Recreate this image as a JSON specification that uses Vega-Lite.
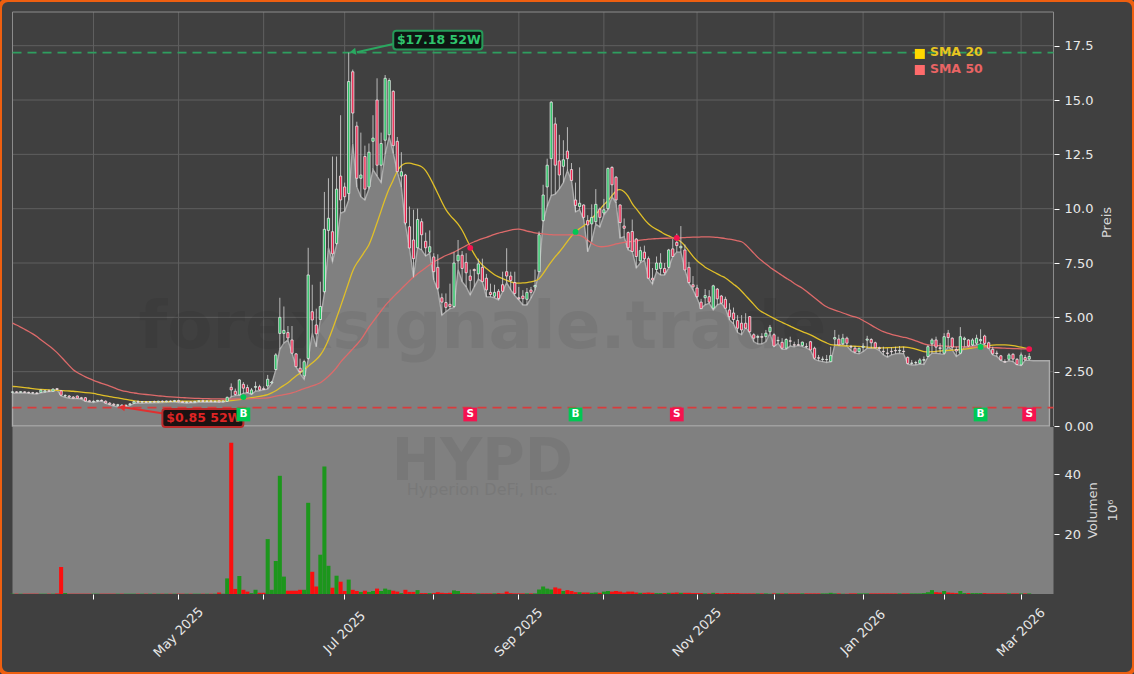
{"$schema":"https://vega.github.io/schema/vega-lite/v6.json","width":1134,"height":674,"autosize":"none","padding":0,"background":"#404040",
"view":{"fill":"#404040","stroke":"#ee5f10","strokeWidth":4,"cornerRadius":8},
"config":{"font":"DejaVu Sans"},
"datasets":{"ohlc":[
{"d":"2025-03-04","o":1.55,"h":1.6,"l":1.5,"c":1.57,"v":0.1,"a":1.82,"b":4.74},
{"d":"2025-03-05","o":1.57,"h":1.6,"l":1.52,"c":1.55,"v":0.1,"a":1.81,"b":4.65},
{"d":"2025-03-06","o":1.55,"h":1.6,"l":1.52,"c":1.58,"v":0.1,"a":1.79,"b":4.55},
{"d":"2025-03-07","o":1.57,"h":1.6,"l":1.52,"c":1.55,"v":0.1,"a":1.77,"b":4.45},
{"d":"2025-03-10","o":1.55,"h":1.58,"l":1.5,"c":1.53,"v":0.1,"a":1.75,"b":4.35},
{"d":"2025-03-11","o":1.53,"h":1.57,"l":1.48,"c":1.52,"v":0.1,"a":1.72,"b":4.24},
{"d":"2025-03-12","o":1.52,"h":1.56,"l":1.47,"c":1.5,"v":0.1,"a":1.7,"b":4.13},
{"d":"2025-03-13","o":1.55,"h":1.68,"l":1.53,"c":1.65,"v":0.1,"a":1.68,"b":3.96},
{"d":"2025-03-14","o":1.57,"h":1.66,"l":1.55,"c":1.62,"v":0.1,"a":1.67,"b":3.83},
{"d":"2025-03-17","o":1.62,"h":1.68,"l":1.58,"c":1.6,"v":0.1,"a":1.66,"b":3.7},
{"d":"2025-03-18","o":1.6,"h":1.72,"l":1.6,"c":1.7,"v":0.1,"a":1.65,"b":3.55},
{"d":"2025-03-19","o":1.72,"h":1.75,"l":1.66,"c":1.68,"v":0.2,"a":1.64,"b":3.38},
{"d":"2025-03-20","o":1.62,"h":1.66,"l":1.38,"c":1.42,"v":9,"a":1.63,"b":3.18},
{"d":"2025-03-21","o":1.38,"h":1.46,"l":1.32,"c":1.4,"v":0.3,"a":1.62,"b":2.98},
{"d":"2025-03-24","o":1.38,"h":1.42,"l":1.28,"c":1.33,"v":0.1,"a":1.61,"b":2.78},
{"d":"2025-03-25","o":1.33,"h":1.38,"l":1.26,"c":1.28,"v":0.1,"a":1.6,"b":2.58},
{"d":"2025-03-26","o":1.38,"h":1.4,"l":1.26,"c":1.28,"v":0.1,"a":1.58,"b":2.46},
{"d":"2025-03-27","o":1.3,"h":1.34,"l":1.24,"c":1.26,"v":0.1,"a":1.56,"b":2.36},
{"d":"2025-03-28","o":1.3,"h":1.33,"l":1.14,"c":1.15,"v":0.1,"a":1.54,"b":2.26},
{"d":"2025-03-31","o":1.16,"h":1.2,"l":1.1,"c":1.12,"v":0.1,"a":1.52,"b":2.18},
{"d":"2025-04-01","o":1.12,"h":1.18,"l":1.08,"c":1.14,"v":0.1,"a":1.5,"b":2.1},
{"d":"2025-04-02","o":1.15,"h":1.2,"l":1.12,"c":1.18,"v":0.1,"a":1.46,"b":2.03},
{"d":"2025-04-03","o":1.18,"h":1.22,"l":1.15,"c":1.16,"v":0.1,"a":1.42,"b":1.96},
{"d":"2025-04-04","o":1.14,"h":1.18,"l":1.04,"c":1.06,"v":0.1,"a":1.38,"b":1.9},
{"d":"2025-04-07","o":1.05,"h":1.1,"l":0.97,"c":1.0,"v":0.1,"a":1.35,"b":1.84},
{"d":"2025-04-08","o":1.0,"h":1.06,"l":0.92,"c":0.96,"v":0.1,"a":1.32,"b":1.77},
{"d":"2025-04-09","o":0.94,"h":1.02,"l":0.88,"c":0.98,"v":0.1,"a":1.29,"b":1.68},
{"d":"2025-04-10","o":0.96,"h":1.0,"l":0.85,"c":0.9,"v":0.1,"a":1.26,"b":1.63},
{"d":"2025-04-11","o":0.92,"h":1.0,"l":0.88,"c":0.95,"v":0.1,"a":1.22,"b":1.59},
{"d":"2025-04-14","o":0.98,"h":1.06,"l":0.94,"c":1.02,"v":0.1,"a":1.19,"b":1.55},
{"d":"2025-04-15","o":1.05,"h":1.16,"l":1.04,"c":1.12,"v":0.1,"a":1.16,"b":1.52},
{"d":"2025-04-16","o":1.12,"h":1.18,"l":1.06,"c":1.1,"v":0.1,"a":1.13,"b":1.49},
{"d":"2025-04-17","o":1.1,"h":1.15,"l":1.05,"c":1.12,"v":0.1,"a":1.12,"b":1.47},
{"d":"2025-04-21","o":1.11,"h":1.14,"l":1.06,"c":1.09,"v":0.1,"a":1.12,"b":1.45},
{"d":"2025-04-22","o":1.09,"h":1.15,"l":1.06,"c":1.12,"v":0.1,"a":1.12,"b":1.43},
{"d":"2025-04-23","o":1.12,"h":1.17,"l":1.07,"c":1.1,"v":0.1,"a":1.12,"b":1.41},
{"d":"2025-04-24","o":1.1,"h":1.16,"l":1.07,"c":1.14,"v":0.1,"a":1.12,"b":1.39},
{"d":"2025-04-25","o":1.14,"h":1.18,"l":1.08,"c":1.12,"v":0.1,"a":1.12,"b":1.37},
{"d":"2025-04-28","o":1.12,"h":1.17,"l":1.09,"c":1.15,"v":0.1,"a":1.12,"b":1.35},
{"d":"2025-04-29","o":1.14,"h":1.18,"l":1.1,"c":1.13,"v":0.1,"a":1.13,"b":1.34},
{"d":"2025-04-30","o":1.13,"h":1.2,"l":1.1,"c":1.17,"v":0.1,"a":1.13,"b":1.33},
{"d":"2025-05-01","o":1.17,"h":1.21,"l":1.08,"c":1.12,"v":0.1,"a":1.14,"b":1.32},
{"d":"2025-05-02","o":1.12,"h":1.16,"l":1.07,"c":1.08,"v":0.1,"a":1.14,"b":1.31},
{"d":"2025-05-05","o":1.08,"h":1.14,"l":1.05,"c":1.11,"v":0.1,"a":1.14,"b":1.29},
{"d":"2025-05-06","o":1.11,"h":1.15,"l":1.07,"c":1.09,"v":0.1,"a":1.14,"b":1.28},
{"d":"2025-05-07","o":1.09,"h":1.16,"l":1.07,"c":1.13,"v":0.1,"a":1.15,"b":1.27},
{"d":"2025-05-08","o":1.13,"h":1.19,"l":1.09,"c":1.16,"v":0.1,"a":1.15,"b":1.27},
{"d":"2025-05-09","o":1.16,"h":1.21,"l":1.1,"c":1.13,"v":0.1,"a":1.15,"b":1.26},
{"d":"2025-05-12","o":1.13,"h":1.18,"l":1.09,"c":1.15,"v":0.1,"a":1.15,"b":1.26},
{"d":"2025-05-13","o":1.15,"h":1.2,"l":1.1,"c":1.12,"v":0.1,"a":1.15,"b":1.25},
{"d":"2025-05-14","o":1.12,"h":1.17,"l":1.09,"c":1.14,"v":0.1,"a":1.15,"b":1.25},
{"d":"2025-05-15","o":1.16,"h":1.18,"l":1.09,"c":1.11,"v":0.5,"a":1.15,"b":1.25},
{"d":"2025-05-16","o":1.11,"h":1.17,"l":1.1,"c":1.15,"v":0.1,"a":1.15,"b":1.24},
{"d":"2025-05-19","o":1.13,"h":1.35,"l":1.15,"c":1.32,"v":5.2,"a":1.15,"b":1.24},
{"d":"2025-05-20","o":1.78,"h":1.96,"l":1.35,"c":1.66,"v":50.4,"a":1.17,"b":1.24},
{"d":"2025-05-21","o":1.6,"h":1.72,"l":1.4,"c":1.45,"v":1.7,"a":1.19,"b":1.24},
{"d":"2025-05-22","o":1.43,"h":2.16,"l":1.42,"c":2.12,"v":6,"a":1.22,"b":1.25},
{"d":"2025-05-23","o":1.92,"h":2.02,"l":1.5,"c":1.74,"v":1.4,"a":1.24,"b":1.25},
{"d":"2025-05-27","o":1.77,"h":1.9,"l":1.53,"c":1.54,"v":0.8,"a":1.27,"b":1.25},
{"d":"2025-05-28","o":1.48,"h":1.75,"l":1.45,"c":1.66,"v":0.3,"a":1.3,"b":1.26},
{"d":"2025-05-29","o":1.78,"h":2.04,"l":1.6,"c":1.82,"v":1.4,"a":1.33,"b":1.27},
{"d":"2025-05-30","o":1.81,"h":1.9,"l":1.62,"c":1.66,"v":0.4,"a":1.36,"b":1.27},
{"d":"2025-06-02","o":1.72,"h":1.82,"l":1.66,"c":1.68,"v":0.4,"a":1.4,"b":1.28},
{"d":"2025-06-03","o":1.84,"h":2.35,"l":1.7,"c":2.15,"v":18.3,"a":1.43,"b":1.29},
{"d":"2025-06-04","o":1.98,"h":2.08,"l":1.95,"c":2.02,"v":1.4,"a":1.52,"b":1.33},
{"d":"2025-06-05","o":2.6,"h":3.35,"l":2.58,"c":3.27,"v":11,"a":1.62,"b":1.37},
{"d":"2025-06-06","o":4.26,"h":5.9,"l":3.53,"c":5,"v":39.4,"a":1.75,"b":1.41},
{"d":"2025-06-09","o":4.26,"h":5.5,"l":3.81,"c":4.4,"v":5.8,"a":1.87,"b":1.44},
{"d":"2025-06-10","o":4.3,"h":4.6,"l":3.96,"c":4.05,"v":1.1,"a":1.98,"b":1.48},
{"d":"2025-06-11","o":3.96,"h":4.6,"l":3.35,"c":3.35,"v":1.1,"a":2.15,"b":1.52},
{"d":"2025-06-12","o":3.32,"h":3.35,"l":2.72,"c":2.73,"v":1.1,"a":2.3,"b":1.57},
{"d":"2025-06-13","o":2.66,"h":3.1,"l":2.4,"c":2.5,"v":1.4,"a":2.44,"b":1.66},
{"d":"2025-06-16","o":2.3,"h":3.05,"l":2.15,"c":2.96,"v":1.4,"a":2.6,"b":1.72},
{"d":"2025-06-17","o":3.11,"h":8.2,"l":3.04,"c":6.95,"v":30.4,"a":2.75,"b":1.78},
{"d":"2025-06-18","o":5.26,"h":6.5,"l":4.28,"c":4.88,"v":7.4,"a":2.9,"b":1.84},
{"d":"2025-06-20","o":4.65,"h":5.4,"l":3.65,"c":4.24,"v":2.5,"a":3.05,"b":1.91},
{"d":"2025-06-23","o":4.9,"h":6.64,"l":4.88,"c":5.5,"v":13.1,"a":3.25,"b":1.98},
{"d":"2025-06-24","o":6.18,"h":10.77,"l":6.1,"c":9.05,"v":42.5,"a":3.55,"b":2.12},
{"d":"2025-06-25","o":9,"h":11.4,"l":8.2,"c":9.56,"v":9.4,"a":3.96,"b":2.28},
{"d":"2025-06-26","o":8.94,"h":12.4,"l":7.56,"c":7.92,"v":2.1,"a":4.45,"b":2.47},
{"d":"2025-06-27","o":8.4,"h":12.4,"l":8.33,"c":10.9,"v":6.1,"a":4.97,"b":2.67},
{"d":"2025-06-30","o":11.5,"h":14.3,"l":9.79,"c":10.4,"v":4.1,"a":5.5,"b":2.95},
{"d":"2025-07-01","o":11,"h":11.2,"l":9.87,"c":10.55,"v":1,"a":6.05,"b":3.15},
{"d":"2025-07-02","o":10.7,"h":17.18,"l":10.4,"c":15.85,"v":4.8,"a":6.6,"b":3.35},
{"d":"2025-07-03","o":16.3,"h":16.4,"l":13,"c":14.4,"v":1.4,"a":7.18,"b":3.55},
{"d":"2025-07-07","o":13.8,"h":14,"l":11,"c":11.4,"v":1,"a":7.5,"b":3.75},
{"d":"2025-07-08","o":11.4,"h":13.5,"l":10.55,"c":11.55,"v":0.7,"a":7.75,"b":3.96},
{"d":"2025-07-09","o":12.4,"h":12.9,"l":10.4,"c":10.9,"v":1.1,"a":8.05,"b":4.25},
{"d":"2025-07-10","o":11,"h":13,"l":10.9,"c":12.6,"v":0.7,"a":8.3,"b":4.56},
{"d":"2025-07-11","o":13.1,"h":14.3,"l":11.8,"c":13.25,"v":1,"a":8.8,"b":4.8},
{"d":"2025-07-14","o":15,"h":16,"l":11.5,"c":12,"v":1.8,"a":9.35,"b":5.05},
{"d":"2025-07-15","o":12,"h":13.5,"l":11.2,"c":13,"v":1,"a":9.9,"b":5.3},
{"d":"2025-07-16","o":13.15,"h":16.15,"l":12.5,"c":16,"v":1.8,"a":10.45,"b":5.55},
{"d":"2025-07-17","o":13.4,"h":16,"l":13.3,"c":15.9,"v":1.4,"a":10.95,"b":5.75},
{"d":"2025-07-18","o":15.4,"h":15.45,"l":12.55,"c":12.9,"v":1.1,"a":11.3,"b":5.94},
{"d":"2025-07-21","o":13.1,"h":13.3,"l":11.7,"c":11.7,"v":0.8,"a":11.78,"b":6.13},
{"d":"2025-07-22","o":11.5,"h":12.6,"l":11,"c":11.7,"v":0.3,"a":12,"b":6.32},
{"d":"2025-07-23","o":11.55,"h":11.6,"l":9.25,"c":9.34,"v":1.4,"a":12.1,"b":6.5},
{"d":"2025-07-24","o":9.17,"h":10.1,"l":8.19,"c":8.19,"v":0.7,"a":12.1,"b":6.68},
{"d":"2025-07-25","o":8.56,"h":9.95,"l":6.84,"c":7.7,"v":0.7,"a":12.05,"b":6.86},
{"d":"2025-07-28","o":8.2,"h":10,"l":8.2,"c":9.5,"v":1.3,"a":12,"b":7},
{"d":"2025-07-29","o":9.4,"h":9.55,"l":8.1,"c":8.8,"v":0.3,"a":11.95,"b":7.15},
{"d":"2025-07-30","o":8.5,"h":8.9,"l":7.82,"c":8.2,"v":0.3,"a":11.78,"b":7.28},
{"d":"2025-07-31","o":8,"h":9,"l":7.95,"c":8.25,"v":0.3,"a":11.45,"b":7.42},
{"d":"2025-08-01","o":7.78,"h":7.95,"l":6.72,"c":7.1,"v":0.3,"a":11.09,"b":7.55},
{"d":"2025-08-04","o":7.3,"h":7.9,"l":6.26,"c":6.34,"v":0.6,"a":10.7,"b":7.65},
{"d":"2025-08-05","o":5.9,"h":6.1,"l":5.1,"c":5.7,"v":0.4,"a":10.3,"b":7.75},
{"d":"2025-08-06","o":5.68,"h":6.1,"l":5.26,"c":5.46,"v":0.3,"a":9.94,"b":7.85},
{"d":"2025-08-07","o":5.6,"h":6.55,"l":5.4,"c":5.5,"v":0.4,"a":9.7,"b":7.92},
{"d":"2025-08-08","o":5.5,"h":8,"l":5.45,"c":7.5,"v":1.2,"a":9.5,"b":8},
{"d":"2025-08-11","o":7.6,"h":8.56,"l":7.2,"c":7.86,"v":1,"a":9.3,"b":8.1},
{"d":"2025-08-12","o":7.86,"h":8.05,"l":6.64,"c":7.25,"v":0.3,"a":9.02,"b":8.2},
{"d":"2025-08-13","o":7.53,"h":7.95,"l":6.4,"c":7.05,"v":0.3,"a":8.65,"b":8.3},
{"d":"2025-08-14","o":6.9,"h":7.2,"l":6.03,"c":6.7,"v":0.3,"a":8.24,"b":8.4},
{"d":"2025-08-15","o":7.2,"h":7.25,"l":6.4,"c":7.15,"v":0.2,"a":7.9,"b":8.48},
{"d":"2025-08-18","o":7,"h":7.7,"l":6.75,"c":7.46,"v":0.2,"a":7.6,"b":8.56},
{"d":"2025-08-19","o":7.3,"h":7.7,"l":6.64,"c":6.64,"v":0.2,"a":7.4,"b":8.62},
{"d":"2025-08-20","o":6.8,"h":7,"l":5.94,"c":6.26,"v":0.2,"a":7.25,"b":8.68},
{"d":"2025-08-21","o":6.15,"h":6.55,"l":5.94,"c":6.05,"v":0.2,"a":7.1,"b":8.75},
{"d":"2025-08-22","o":5.97,"h":6.5,"l":5.9,"c":6.15,"v":0.2,"a":6.95,"b":8.82},
{"d":"2025-08-25","o":6.2,"h":6.3,"l":5.8,"c":5.87,"v":0.3,"a":6.86,"b":8.88},
{"d":"2025-08-26","o":6.5,"h":7.1,"l":6.18,"c":6.2,"v":0.2,"a":6.78,"b":8.92},
{"d":"2025-08-27","o":7.1,"h":8.18,"l":6.6,"c":6.9,"v":0.8,"a":6.7,"b":8.97},
{"d":"2025-08-28","o":6.9,"h":7.1,"l":6.26,"c":6.7,"v":0.3,"a":6.63,"b":9.02},
{"d":"2025-08-29","o":6.6,"h":7.1,"l":6,"c":6.1,"v":0.2,"a":6.58,"b":9.05},
{"d":"2025-09-02","o":5.9,"h":6.4,"l":5.8,"c":5.85,"v":0.2,"a":6.57,"b":9.07},
{"d":"2025-09-03","o":5.98,"h":6.25,"l":5.57,"c":5.86,"v":0.2,"a":6.58,"b":9.02},
{"d":"2025-09-04","o":5.83,"h":6.35,"l":5.57,"c":6.15,"v":0.2,"a":6.6,"b":8.97},
{"d":"2025-09-05","o":6.26,"h":6.4,"l":5.88,"c":6.15,"v":0.2,"a":6.63,"b":8.93},
{"d":"2025-09-08","o":6.4,"h":7.2,"l":6.26,"c":6.47,"v":0.2,"a":6.67,"b":8.88},
{"d":"2025-09-09","o":7.1,"h":8.95,"l":7.1,"c":8.8,"v":1.5,"a":6.75,"b":8.86},
{"d":"2025-09-10","o":9.45,"h":11.1,"l":9.4,"c":10.63,"v":2.5,"a":7,"b":8.84},
{"d":"2025-09-11","o":11,"h":12.3,"l":10.1,"c":12,"v":1.8,"a":7.3,"b":8.82},
{"d":"2025-09-12","o":12.3,"h":14.95,"l":10.6,"c":14.9,"v":1.5,"a":7.55,"b":8.8},
{"d":"2025-09-15","o":13.9,"h":14.2,"l":10.67,"c":12,"v":2.2,"a":7.8,"b":8.79},
{"d":"2025-09-16","o":12.2,"h":13.4,"l":10.9,"c":11.55,"v":1.8,"a":8,"b":8.79},
{"d":"2025-09-17","o":11.95,"h":13.15,"l":11.2,"c":12.25,"v":1,"a":8.24,"b":8.79},
{"d":"2025-09-18","o":12.65,"h":13.75,"l":11.75,"c":12.3,"v":1.3,"a":8.5,"b":8.8},
{"d":"2025-09-19","o":11.8,"h":12.1,"l":11.3,"c":11.3,"v":1,"a":8.75,"b":8.8},
{"d":"2025-09-22","o":10.4,"h":11.2,"l":9.85,"c":10.15,"v":0.6,"a":8.93,"b":8.8},
{"d":"2025-09-23","o":10.1,"h":11.9,"l":9.95,"c":10.25,"v":0.6,"a":9.1,"b":8.79},
{"d":"2025-09-24","o":10.17,"h":10.2,"l":9.5,"c":9.6,"v":0.5,"a":9.2,"b":8.7},
{"d":"2025-09-25","o":9.45,"h":9.7,"l":8.02,"c":9.25,"v":0.5,"a":9.35,"b":8.55},
{"d":"2025-09-26","o":9.3,"h":10.2,"l":8.5,"c":9.6,"v":0.4,"a":9.55,"b":8.4},
{"d":"2025-09-29","o":9.4,"h":10.9,"l":9.3,"c":10.2,"v":0.5,"a":9.75,"b":8.3},
{"d":"2025-09-30","o":9.98,"h":10.05,"l":9.15,"c":9.6,"v":0.4,"a":9.95,"b":8.24},
{"d":"2025-10-01","o":9.8,"h":10.45,"l":9.7,"c":9.95,"v":0.8,"a":10.2,"b":8.25},
{"d":"2025-10-02","o":10,"h":11.9,"l":9.95,"c":11.85,"v":1,"a":10.35,"b":8.28},
{"d":"2025-10-03","o":11.9,"h":11.95,"l":10.55,"c":11.1,"v":0.8,"a":10.6,"b":8.32},
{"d":"2025-10-06","o":11.45,"h":11.5,"l":10.26,"c":10.4,"v":1,"a":10.85,"b":8.38},
{"d":"2025-10-07","o":10.17,"h":10.2,"l":8.65,"c":9.36,"v":0.8,"a":10.9,"b":8.42},
{"d":"2025-10-08","o":9.2,"h":9.55,"l":8.7,"c":9.1,"v":0.5,"a":10.8,"b":8.45},
{"d":"2025-10-09","o":8.9,"h":8.95,"l":8.1,"c":8.2,"v":0.8,"a":10.6,"b":8.48},
{"d":"2025-10-10","o":8.95,"h":9.5,"l":8.03,"c":8.03,"v":0.8,"a":10.2,"b":8.5},
{"d":"2025-10-13","o":8.6,"h":8.65,"l":7.27,"c":7.8,"v":0.5,"a":10,"b":8.52},
{"d":"2025-10-14","o":7.6,"h":8.25,"l":7.5,"c":8.07,"v":0.4,"a":9.75,"b":8.55},
{"d":"2025-10-15","o":8,"h":8.3,"l":7.64,"c":7.7,"v":0.4,"a":9.5,"b":8.57},
{"d":"2025-10-16","o":7.7,"h":7.8,"l":6.8,"c":6.8,"v":0.5,"a":9.3,"b":8.6},
{"d":"2025-10-17","o":6.8,"h":7.27,"l":6.53,"c":6.72,"v":0.4,"a":9.15,"b":8.61},
{"d":"2025-10-20","o":7.2,"h":7.8,"l":7.1,"c":7.5,"v":0.3,"a":9.05,"b":8.62},
{"d":"2025-10-21","o":7.25,"h":7.95,"l":6.95,"c":7.5,"v":0.3,"a":8.95,"b":8.63},
{"d":"2025-10-22","o":7.25,"h":7.5,"l":6.95,"c":7.05,"v":0.3,"a":8.82,"b":8.64},
{"d":"2025-10-23","o":7.3,"h":8.15,"l":7.27,"c":8.1,"v":0.4,"a":8.75,"b":8.64},
{"d":"2025-10-24","o":8.15,"h":8.6,"l":7.8,"c":7.8,"v":0.4,"a":8.65,"b":8.65},
{"d":"2025-10-27","o":8.45,"h":8.85,"l":8,"c":8.3,"v":0.5,"a":8.6,"b":8.65},
{"d":"2025-10-28","o":8.2,"h":9.2,"l":8,"c":8.27,"v":0.4,"a":8.5,"b":8.66},
{"d":"2025-10-29","o":8.1,"h":8.35,"l":7.18,"c":7.18,"v":0.4,"a":8.3,"b":8.67},
{"d":"2025-10-30","o":7.3,"h":7.55,"l":6.57,"c":6.6,"v":0.4,"a":8.05,"b":8.68},
{"d":"2025-10-31","o":6.5,"h":6.9,"l":6.26,"c":6.4,"v":0.3,"a":7.8,"b":8.69},
{"d":"2025-11-03","o":6.35,"h":6.5,"l":5.88,"c":5.95,"v":0.3,"a":7.6,"b":8.69},
{"d":"2025-11-04","o":5.7,"h":5.85,"l":5.42,"c":5.4,"v":0.3,"a":7.45,"b":8.7},
{"d":"2025-11-05","o":5.9,"h":6.3,"l":5.57,"c":6,"v":0.2,"a":7.3,"b":8.7},
{"d":"2025-11-06","o":5.95,"h":6.25,"l":5.64,"c":5.7,"v":0.2,"a":7.2,"b":8.7},
{"d":"2025-11-07","o":5.42,"h":6.5,"l":5.34,"c":6.45,"v":0.4,"a":7.1,"b":8.69},
{"d":"2025-11-10","o":6.3,"h":6.35,"l":5.57,"c":5.85,"v":0.3,"a":7,"b":8.68},
{"d":"2025-11-11","o":5.98,"h":6.03,"l":5.64,"c":5.65,"v":0.2,"a":6.9,"b":8.65},
{"d":"2025-11-12","o":5.83,"h":5.95,"l":5.42,"c":5.42,"v":0.3,"a":6.82,"b":8.62},
{"d":"2025-11-13","o":5.34,"h":5.65,"l":4.88,"c":5.03,"v":0.3,"a":6.68,"b":8.6},
{"d":"2025-11-14","o":5.2,"h":5.45,"l":4.7,"c":4.9,"v":0.3,"a":6.52,"b":8.56},
{"d":"2025-11-17","o":4.85,"h":5.1,"l":4.3,"c":4.5,"v":0.3,"a":6.4,"b":8.52},
{"d":"2025-11-18","o":4.73,"h":5.1,"l":4.2,"c":4.42,"v":0.2,"a":6.2,"b":8.5},
{"d":"2025-11-19","o":4.73,"h":5.19,"l":4.54,"c":4.5,"v":0.2,"a":6,"b":8.35},
{"d":"2025-11-20","o":5.03,"h":5.06,"l":4.27,"c":4.34,"v":0.2,"a":5.8,"b":8.15},
{"d":"2025-11-21","o":4.2,"h":4.27,"l":3.88,"c":4.04,"v":0.2,"a":5.6,"b":7.96},
{"d":"2025-11-24","o":4.08,"h":4.2,"l":3.77,"c":4.12,"v":0.2,"a":5.37,"b":7.75},
{"d":"2025-11-25","o":4.12,"h":4.27,"l":3.77,"c":4.08,"v":0.2,"a":5.25,"b":7.6},
{"d":"2025-11-26","o":4.11,"h":4.42,"l":3.88,"c":4.27,"v":0.2,"a":5.15,"b":7.45},
{"d":"2025-11-28","o":4.34,"h":4.65,"l":4.27,"c":4.54,"v":0.1,"a":5.05,"b":7.3},
{"d":"2025-12-01","o":4.2,"h":4.27,"l":3.65,"c":3.68,"v":0.2,"a":4.95,"b":7.18},
{"d":"2025-12-02","o":3.92,"h":4.11,"l":3.81,"c":3.94,"v":0.2,"a":4.85,"b":7.05},
{"d":"2025-12-03","o":3.85,"h":4.04,"l":3.53,"c":3.58,"v":0.2,"a":4.77,"b":6.93},
{"d":"2025-12-04","o":3.58,"h":4.04,"l":3.53,"c":3.98,"v":0.2,"a":4.68,"b":6.8},
{"d":"2025-12-05","o":3.92,"h":4.11,"l":3.68,"c":3.9,"v":0.2,"a":4.6,"b":6.7},
{"d":"2025-12-08","o":3.74,"h":3.88,"l":3.65,"c":3.72,"v":0.2,"a":4.5,"b":6.55},
{"d":"2025-12-09","o":3.74,"h":4.0,"l":3.7,"c":3.72,"v":0.2,"a":4.42,"b":6.45},
{"d":"2025-12-10","o":3.7,"h":3.88,"l":3.65,"c":3.86,"v":0.2,"a":4.34,"b":6.35},
{"d":"2025-12-11","o":3.66,"h":3.81,"l":3.58,"c":3.64,"v":0.2,"a":4.27,"b":6.2},
{"d":"2025-12-12","o":3.88,"h":3.92,"l":3.5,"c":3.5,"v":0.2,"a":4.2,"b":6.05},
{"d":"2025-12-15","o":3.58,"h":3.65,"l":3.07,"c":3.12,"v":0.2,"a":4.1,"b":5.9},
{"d":"2025-12-16","o":3.14,"h":3.27,"l":3,"c":3.12,"v":0.2,"a":4,"b":5.75},
{"d":"2025-12-17","o":3.06,"h":3.2,"l":2.96,"c":3.08,"v":0.2,"a":3.9,"b":5.6},
{"d":"2025-12-18","o":3.05,"h":3.27,"l":2.92,"c":3.06,"v":0.2,"a":3.82,"b":5.48},
{"d":"2025-12-19","o":2.96,"h":3.65,"l":2.96,"c":3.24,"v":0.4,"a":3.74,"b":5.4},
{"d":"2025-12-22","o":4.0,"h":4.42,"l":3.73,"c":4.07,"v":0.2,"a":3.72,"b":5.33},
{"d":"2025-12-23","o":4,"h":4.2,"l":3.73,"c":3.73,"v":0.2,"a":3.7,"b":5.27},
{"d":"2025-12-24","o":3.78,"h":4.24,"l":3.73,"c":4.04,"v":0.1,"a":3.69,"b":5.2},
{"d":"2025-12-26","o":4.04,"h":4.11,"l":3.68,"c":3.81,"v":0.1,"a":3.68,"b":5.13},
{"d":"2025-12-29","o":3.66,"h":3.73,"l":3.47,"c":3.63,"v":0.2,"a":3.68,"b":5.07},
{"d":"2025-12-30","o":3.58,"h":3.68,"l":3.35,"c":3.4,"v":0.2,"a":3.67,"b":5.02},
{"d":"2025-12-31","o":3.42,"h":3.6,"l":3.32,"c":3.58,"v":0.2,"a":3.66,"b":4.97},
{"d":"2026-01-02","o":3.62,"h":3.81,"l":3.42,"c":3.67,"v":0.2,"a":3.65,"b":4.85},
{"d":"2026-01-05","o":3.95,"h":4.15,"l":3.58,"c":4,"v":0.2,"a":3.63,"b":4.75},
{"d":"2026-01-06","o":3.98,"h":4.04,"l":3.58,"c":3.83,"v":0.2,"a":3.61,"b":4.64},
{"d":"2026-01-07","o":3.83,"h":3.88,"l":3.58,"c":3.6,"v":0.2,"a":3.6,"b":4.53},
{"d":"2026-01-08","o":3.6,"h":3.65,"l":3.47,"c":3.56,"v":0.2,"a":3.59,"b":4.43},
{"d":"2026-01-09","o":3.44,"h":3.65,"l":3.27,"c":3.42,"v":0.2,"a":3.59,"b":4.33},
{"d":"2026-01-12","o":3.36,"h":3.58,"l":3.17,"c":3.34,"v":0.2,"a":3.6,"b":4.28},
{"d":"2026-01-13","o":3.44,"h":3.62,"l":3.27,"c":3.42,"v":0.2,"a":3.61,"b":4.22},
{"d":"2026-01-14","o":3.48,"h":3.65,"l":3.32,"c":3.46,"v":0.2,"a":3.62,"b":4.17},
{"d":"2026-01-15","o":3.46,"h":3.68,"l":3.35,"c":3.48,"v":0.2,"a":3.63,"b":4.12},
{"d":"2026-01-16","o":3.44,"h":3.65,"l":3.32,"c":3.42,"v":0.2,"a":3.64,"b":4.08},
{"d":"2026-01-20","o":3.16,"h":3.2,"l":2.85,"c":2.88,"v":0.2,"a":3.62,"b":4.05},
{"d":"2026-01-21","o":2.88,"h":3.04,"l":2.81,"c":2.9,"v":0.2,"a":3.58,"b":3.98},
{"d":"2026-01-22","o":2.9,"h":3,"l":2.81,"c":2.92,"v":0.2,"a":3.54,"b":3.92},
{"d":"2026-01-23","o":2.88,"h":3.12,"l":2.85,"c":3.04,"v":0.2,"a":3.48,"b":3.85},
{"d":"2026-01-26","o":3.02,"h":3.2,"l":2.83,"c":3.06,"v":0.3,"a":3.42,"b":3.78},
{"d":"2026-01-27","o":3.2,"h":3.73,"l":3.17,"c":3.65,"v":0.6,"a":3.4,"b":3.73},
{"d":"2026-01-28","o":3.78,"h":4.04,"l":3.35,"c":3.96,"v":1.3,"a":3.42,"b":3.72},
{"d":"2026-01-29","o":3.96,"h":4.11,"l":3.35,"c":3.63,"v":0.6,"a":3.44,"b":3.71},
{"d":"2026-01-30","o":3.6,"h":3.81,"l":3.32,"c":3.56,"v":0.5,"a":3.45,"b":3.7},
{"d":"2026-02-02","o":3.35,"h":4.27,"l":3.3,"c":4.11,"v":1,"a":3.47,"b":3.68},
{"d":"2026-02-03","o":4.27,"h":4.42,"l":3.65,"c":4.07,"v":0.5,"a":3.48,"b":3.67},
{"d":"2026-02-04","o":4.04,"h":4.08,"l":3.5,"c":3.63,"v":0.4,"a":3.49,"b":3.65},
{"d":"2026-02-05","o":3.52,"h":3.65,"l":3.2,"c":3.45,"v":0.3,"a":3.5,"b":3.64},
{"d":"2026-02-06","o":3.35,"h":4.55,"l":3.32,"c":4.11,"v":1,"a":3.52,"b":3.64},
{"d":"2026-02-09","o":3.98,"h":4.11,"l":3.65,"c":4.04,"v":0.3,"a":3.54,"b":3.64},
{"d":"2026-02-10","o":3.96,"h":4,"l":3.65,"c":3.68,"v":0.3,"a":3.56,"b":3.64},
{"d":"2026-02-11","o":3.73,"h":4.04,"l":3.68,"c":3.96,"v":0.3,"a":3.59,"b":3.64},
{"d":"2026-02-12","o":3.81,"h":4.2,"l":3.73,"c":4.04,"v":0.3,"a":3.62,"b":3.64},
{"d":"2026-02-13","o":3.92,"h":4.45,"l":3.77,"c":3.98,"v":0.3,"a":3.64,"b":3.64},
{"d":"2026-02-17","o":4.14,"h":4.2,"l":3.73,"c":3.8,"v":0.3,"a":3.67,"b":3.63},
{"d":"2026-02-18","o":3.83,"h":3.88,"l":3.58,"c":3.58,"v":0.2,"a":3.7,"b":3.62},
{"d":"2026-02-19","o":3.53,"h":3.65,"l":3.27,"c":3.32,"v":0.2,"a":3.72,"b":3.61},
{"d":"2026-02-20","o":3.35,"h":3.47,"l":3.2,"c":3.33,"v":0.2,"a":3.73,"b":3.6},
{"d":"2026-02-23","o":3.23,"h":3.27,"l":3.02,"c":3.04,"v":0.2,"a":3.73,"b":3.59},
{"d":"2026-02-24","o":2.96,"h":3.07,"l":2.93,"c":2.94,"v":0.2,"a":3.73,"b":3.58},
{"d":"2026-02-25","o":3.07,"h":3.35,"l":3,"c":3.27,"v":0.2,"a":3.72,"b":3.57},
{"d":"2026-02-26","o":3.3,"h":3.35,"l":2.96,"c":3.08,"v":0.2,"a":3.7,"b":3.56},
{"d":"2026-02-27","o":3.07,"h":3.12,"l":2.81,"c":2.83,"v":0.2,"a":3.67,"b":3.56},
{"d":"2026-03-02","o":2.81,"h":3.38,"l":2.78,"c":3.27,"v":0.2,"a":3.63,"b":3.55},
{"d":"2026-03-03","o":3.15,"h":3.27,"l":3.02,"c":3.04,"v":0.2,"a":3.58,"b":3.55},
{"d":"2026-03-04","o":3.08,"h":3.35,"l":3.02,"c":3.2,"v":0.2,"a":3.54,"b":3.54},
{"d":"2026-03-05","l":3},{"d":"2026-03-06","l":3},{"d":"2026-03-09","l":3},{"d":"2026-03-10","l":3},{"d":"2026-03-11","l":3}
],
"months":[{"d":"2025-04-01"},{"d":"2025-05-01"},{"d":"2025-06-02"},{"d":"2025-07-01"},{"d":"2025-08-01"},{"d":"2025-09-02"},{"d":"2025-10-01"},{"d":"2025-11-03"},{"d":"2025-12-01"},{"d":"2026-01-02"},{"d":"2026-02-02"},{"d":"2026-03-02"}],
"prices":[{"p":2.5},{"p":5},{"p":7.5},{"p":10},{"p":12.5},{"p":15},{"p":17.5}],
"edges":[{"d":"2025-03-04"},{"d":"2026-03-12"}],
"signals":[{"d":"2025-05-23","s":"B","p":0.53,"x":1.33},{"d":"2025-08-14","s":"S","p":0.53,"x":8.2},{"d":"2025-09-22","s":"B","p":0.53,"x":8.93},{"d":"2025-10-27","s":"S","p":0.53,"x":8.65},{"d":"2026-02-13","s":"B","p":0.53,"x":3.64},{"d":"2026-03-04","s":"S","p":0.53,"x":3.54}]
},
"encoding":{"x":{"field":"d","type":"ordinal","title":null,
"scale":{"type":"band","range":[10.475,1055.525],"paddingInner":0,"paddingOuter":0},
"axis":{"orient":"bottom","offset":-80,"title":null,"domain":false,"grid":false,"ticks":true,"tickColor":"#ffffff","tickSize":5,"tickWidth":1,"labelColor":"#e8e8e8","labelFontSize":13,"labelAngle":-45,"labelAlign":"center","labelBaseline":"middle","labelPadding":33,"labelOverlap":false,"labelBound":false,"labelFlush":false,
"values":["2025-04-01","2025-05-01","2025-06-02","2025-07-01","2025-08-01","2025-09-02","2025-10-01","2025-11-03","2025-12-01","2026-01-02","2026-02-02","2026-03-02"],
"labelExpr":"{'2025-05-01':'May 2025','2025-07-01':'Jul 2025','2025-09-02':'Sep 2025','2025-11-03':'Nov 2025','2026-01-02':'Jan 2026','2026-03-02':'Mar 2026'}[datum.value] || ''"}}},
"resolve":{"scale":{"y":"independent"},"axis":{"y":"independent"}},
"layer":[
{"data":{"values":[{"v":0,"v2":55.67}]},"mark":{"type":"rect","color":"#808080"},"encoding":{"x":{"datum":"2025-03-04","type":"ordinal"},"x2":{"datum":"2026-03-12"},
"y":{"field":"v","type":"quantitative","scale":{"domain":[0,55.67],"range":[594,427],"nice":false},
"axis":{"orient":"right","offset":-80,"values":[20,40],"domain":false,"grid":false,"tickColor":"#ffffff","tickSize":5,"labelColor":"#e8e8e8","labelFontSize":13,"labelAlign":"left","labelPadding":5,"title":["Volumen","10⁶"],"titleColor":"#d8d8d8","titleFontSize":13,"titleFontWeight":"normal","titleAngle":-90,"titleX":38,"titleY":510,"titleLineHeight":20,"titleAlign":"center","titleBaseline":"middle"}},
"y2":{"field":"v2"}}},
{"data":{"name":"prices"},"mark":{"type":"rule","color":"#5f5f5f","strokeWidth":1},"encoding":{"x":{"datum":"2025-03-04","type":"ordinal"},"x2":{"datum":"2026-03-12"},
"y":{"field":"p","type":"quantitative","scale":{"domain":[0,19.05],"range":[426,12],"nice":false},
"axis":{"orient":"right","offset":-80,"values":[0,2.5,5,7.5,10,12.5,15,17.5],"labelExpr":"datum.value===0?'0.00':format(datum.value,'.3r')","domain":false,"grid":false,"tickColor":"#ffffff","tickSize":5,"labelColor":"#e8e8e8","labelFontSize":13,"labelAlign":"left","labelPadding":5,"title":"Preis","titleColor":"#d8d8d8","titleFontSize":13,"titleFontWeight":"normal","titleAngle":-90,"titleX":52,"titleY":222,"titleAlign":"center","titleBaseline":"middle"}}}},
{"layer":[
{"data":{"name":"ohlc"},"mark":{"type":"bar","width":{"band":1}},"encoding":{"y":{"field":"v","type":"quantitative","stack":null,"axis":null,"scale":{"domain":[0,55.67],"range":[594,427],"nice":false}},"color":{"condition":{"test":"datum.c>=datum.o","value":"#1c961c"},"value":"#fa0f0f"}}},
{"data":{"values":[{"d":"2025-08-19","v":38}]},"mark":{"type":"text","text":"HYPD","fontSize":58,"fontWeight":"bold","color":"#000000","opacity":0.06,"baseline":"alphabetic"},"encoding":{"y":{"field":"v","type":"quantitative","axis":null}}},
{"data":{"values":[{"d":"2025-08-19","v":33}]},"mark":{"type":"text","text":"Hyperion DeFi, Inc.","fontSize":16,"color":"#000000","opacity":0.06,"baseline":"alphabetic"},"encoding":{"y":{"field":"v","type":"quantitative","axis":null}}}
]},
{"layer":[
{"data":{"name":"months"},"mark":{"type":"rule","color":"#5f5f5f","strokeWidth":1},"encoding":{"y":{"datum":0,"type":"quantitative","axis":null,"scale":{"domain":[0,19.05],"range":[426,12],"nice":false}},"y2":{"datum":19.05}}},
{"data":{"name":"edges"},"mark":{"type":"rule","color":"#8c8c8c","strokeWidth":1},"encoding":{"y":{"datum":0,"type":"quantitative","axis":null},"y2":{"datum":19.05}}},
{"data":{"values":[{"p":19.05}]},"mark":{"type":"rule","color":"#8c8c8c","strokeWidth":1},"encoding":{"x":{"datum":"2025-03-04","type":"ordinal"},"x2":{"datum":"2026-03-12"},"y":{"field":"p","type":"quantitative","axis":null}}},
{"data":{"name":"ohlc"},"mark":{"type":"area","color":"#808080","stroke":"#aaaaaa","strokeWidth":1.4},"encoding":{"y":{"field":"l","type":"quantitative","axis":null}}},
{"data":{"values":[{"d":"2025-08-19","p":3.59}]},"mark":{"type":"text","text":"forexsignale.trade","fontSize":66,"fontWeight":"bold","color":"#000000","opacity":0.06,"baseline":"alphabetic"},"encoding":{"y":{"field":"p","type":"quantitative","axis":null}}},
{"data":{"values":[{"p":17.18,"k":"hi"}]},"mark":{"type":"rule","color":"#2e9e5f","strokeWidth":1.6,"strokeDash":[9,6]},"encoding":{"x":{"datum":"2025-03-04","type":"ordinal"},"x2":{"datum":"2026-03-12"},"y":{"field":"p","type":"quantitative","axis":null}}},
{"data":{"values":[{"p":0.85,"k":"lo"}]},"mark":{"type":"rule","color":"#d83c3c","strokeWidth":1.8,"strokeDash":[9,6]},"encoding":{"x":{"datum":"2025-03-04","type":"ordinal"},"x2":{"datum":"2026-03-12"},"y":{"field":"p","type":"quantitative","axis":null}}},
{"data":{"name":"ohlc"},"mark":{"type":"line","color":"#e0bf28","strokeWidth":1.3,"interpolate":"basis"},"encoding":{"y":{"field":"a","type":"quantitative","axis":null}}},
{"data":{"name":"ohlc"},"mark":{"type":"line","color":"#dd6a6a","strokeWidth":1.3,"interpolate":"basis"},"encoding":{"y":{"field":"b","type":"quantitative","axis":null}}},
{"data":{"name":"ohlc"},"mark":{"type":"rule","color":"#d8d8d8","strokeWidth":0.8},"encoding":{"y":{"field":"l","type":"quantitative","axis":null},"y2":{"field":"h"}}},
{"data":{"name":"ohlc"},"mark":{"type":"bar","width":{"band":0.55},"stroke":"#eaeaea","strokeWidth":0.8},"encoding":{"y":{"field":"o","type":"quantitative","axis":null},"y2":{"field":"c"},"color":{"condition":{"test":"datum.c>=datum.o","value":"#1fbf5c"},"value":"#f0244f"}}},
{"data":{"name":"signals"},"mark":{"type":"point","filled":true,"shape":"circle","size":34,"opacity":1},"encoding":{"y":{"field":"x","type":"quantitative","axis":null},"color":{"condition":{"test":"datum.s==='B'","value":"#00c853"},"value":"#f5134f"}}},
{"data":{"values":[{"d":"2025-07-18","d2":"2025-07-07","p":17.58,"p2":17.2}]},"mark":{"type":"rule","color":"#2aa860","strokeWidth":2},"encoding":{"x":{"field":"d","type":"ordinal"},"x2":{"field":"d2"},"y":{"field":"p","type":"quantitative","axis":null},"y2":{"field":"p2"}}},
{"data":{"values":[{"d":"2025-07-03","p":17.22}]},"mark":{"type":"point","filled":true,"shape":"triangle-left","size":50,"angle":-10,"color":"#2aa860","opacity":1},"encoding":{"y":{"field":"p","type":"quantitative","axis":null}}},
{"data":{"values":[{"d":"2025-07-18","d2":"2025-08-19","p":18.19,"p2":17.33}]},"mark":{"type":"rect","fill":"#0e1613","stroke":"#259a58","strokeWidth":2,"cornerRadius":3},"encoding":{"x":{"field":"d","type":"ordinal"},"x2":{"field":"d2"},"y":{"field":"p","type":"quantitative","axis":null},"y2":{"field":"p2"}}},
{"data":{"values":[{"d":"2025-08-04","p":17.76}]},"mark":{"type":"text","text":"$17.18 52W","fontSize":12.5,"fontWeight":"bold","color":"#2fc56d","baseline":"middle","dx":1},"encoding":{"y":{"field":"p","type":"quantitative","axis":null}}},
{"data":{"values":[{"d":"2025-04-28","d2":"2025-04-10","p":0.55,"p2":0.87}]},"mark":{"type":"rule","color":"#e03030","strokeWidth":2},"encoding":{"x":{"field":"d","type":"ordinal"},"x2":{"field":"d2"},"y":{"field":"p","type":"quantitative","axis":null},"y2":{"field":"p2"}}},
{"data":{"values":[{"d":"2025-04-10","p":0.86}]},"mark":{"type":"point","filled":true,"shape":"triangle-left","size":50,"angle":8,"color":"#e03030","opacity":1},"encoding":{"y":{"field":"p","type":"quantitative","axis":null}}},
{"data":{"values":[{"d":"2025-04-25","d2":"2025-05-23","p":0.78,"p2":-0.05}]},"mark":{"type":"rect","fill":"#1c1212","stroke":"#bb2a2a","strokeWidth":2,"cornerRadius":3},"encoding":{"x":{"field":"d","type":"ordinal"},"x2":{"field":"d2"},"y":{"field":"p","type":"quantitative","axis":null},"y2":{"field":"p2"}}},
{"data":{"values":[{"d":"2025-05-08","p":0.37}]},"mark":{"type":"text","text":"$0.85 52W","fontSize":12.5,"fontWeight":"bold","color":"#dd2424","baseline":"middle","dx":5},"encoding":{"y":{"field":"p","type":"quantitative","axis":null}}},
{"data":{"name":"signals"},"mark":{"type":"point","filled":true,"shape":"square","size":190,"opacity":1},"encoding":{"y":{"field":"p","type":"quantitative","axis":null},"color":{"condition":{"test":"datum.s==='B'","value":"#00c853"},"value":"#f5134f"}}},
{"data":{"name":"signals"},"mark":{"type":"text","fontSize":10.5,"fontWeight":"bold","color":"#ffffff","baseline":"middle"},"encoding":{"y":{"field":"p","type":"quantitative","axis":null},"text":{"field":"s"}}},
{"data":{"values":[{"d":"2026-01-23","p":17.12,"n":"SMA 20"},{"d":"2026-01-23","p":16.38,"n":"SMA 50"}]},"mark":{"type":"point","filled":true,"shape":"square","size":100,"opacity":1},"encoding":{"y":{"field":"p","type":"quantitative","axis":null},"color":{"condition":{"test":"datum.n==='SMA 20'","value":"#ffd700"},"value":"#ff6b6b"}}},
{"data":{"values":[{"d":"2026-01-27","p":17.22,"n":"SMA 20"},{"d":"2026-01-27","p":16.44,"n":"SMA 50"}]},"mark":{"type":"text","align":"left","baseline":"middle","fontSize":12.5,"fontWeight":"bold","dx":2},"encoding":{"y":{"field":"p","type":"quantitative","axis":null},"text":{"field":"n"},"color":{"condition":{"test":"datum.n==='SMA 20'","value":"#e8c51f"},"value":"#e96464"}}}
]}
]}
